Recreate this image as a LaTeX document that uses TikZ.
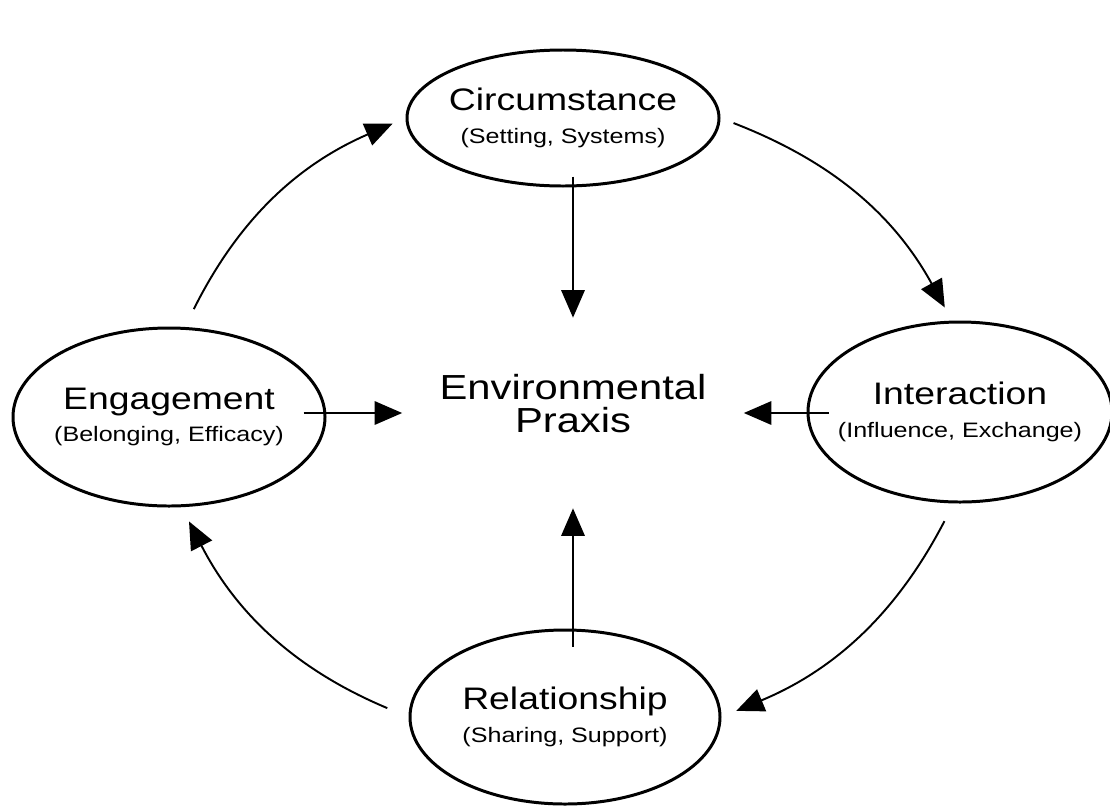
\documentclass[tikz,border=0pt]{standalone}
\usepackage{fontspec}
\newfontfamily\diagfont[FakeStretch=1.2]{Liberation Sans}
\usetikzlibrary{positioning,calc}
\usetikzlibrary{arrows.meta,shapes.geometric}

\newcommand{\phasesub}[1]{{\fontsize{11.9}{18.7}\selectfont (#1)}}

\tikzset{
    phase/.style = {draw, ellipse, line width = 1.7pt, inner sep = 0pt,
        label = {[align = center, font = \diagfont\fontsize{17.7}{18.7}\selectfont]center:#1}},
    flow/.style = {-{Triangle[length = .55cm, width = .47cm]}, line width = .9pt},
    roundflow/.style = {flow, line width = 1.1pt, bend left = 20},
}

\begin{document}
\begin{tikzpicture}[x = .2mm, y = -.2mm]

    \useasboundingbox (0, 0) rectangle (1110, 806);

    % the four phases
    \node [phase = {Circumstance\\\phasesub{Setting, Systems}}, minimum width = 6.24cm, minimum height = 2.72cm] (circ) at (563, 118) {};
    \node [phase = {Interaction\\\phasesub{Influence, Exchange}}, minimum width = 6.08cm, minimum height = 3.6cm] (inter) at (960, 412) {};
    \node [phase = {Relationship\\\phasesub{Sharing, Support}}, minimum width = 6.2cm, minimum height = 3.48cm] (rel) at (565, 717) {};
    \node [phase = {Engagement\\\phasesub{Belonging, Efficacy}}, minimum width = 6.24cm, minimum height = 3.56cm] (eng) at (169, 417) {};

    \node [minimum width = 6.82cm, minimum height = 3.8cm, align = center,
        font = \diagfont\fontsize{19.8}{18.7}\selectfont] (praxis) at (573, 413) {Environmental\\Praxis\\[-8pt]};

    % into the middle
    \draw [flow, shorten <= -.22cm] (circ.south -| praxis.north) -- (praxis.north);
    \draw [flow, shorten <= -.46cm] (eng.east |- praxis.west) -- (praxis.west);
    \draw [flow, shorten <= -.44cm] (inter.west |- praxis.east) -- (praxis.east);
    \draw [flow, shorten <= -.36cm] (rel.north -| praxis.south) -- (praxis.south);

    % round the cycle
    \draw [roundflow, shorten <= .28cm, shorten >= .3cm] (circ.east) to (inter.95);
    \draw [roundflow, shorten <= .4cm, shorten >= .32cm] (inter.266) to (rel.east);
    \draw [roundflow, shorten <= .46cm, shorten >= .32cm] (rel.west) to (eng.278);
    \draw [roundflow, shorten <= .4cm, shorten >= .28cm] (eng.80) to (circ.west);

\end{tikzpicture}
\end{document}
